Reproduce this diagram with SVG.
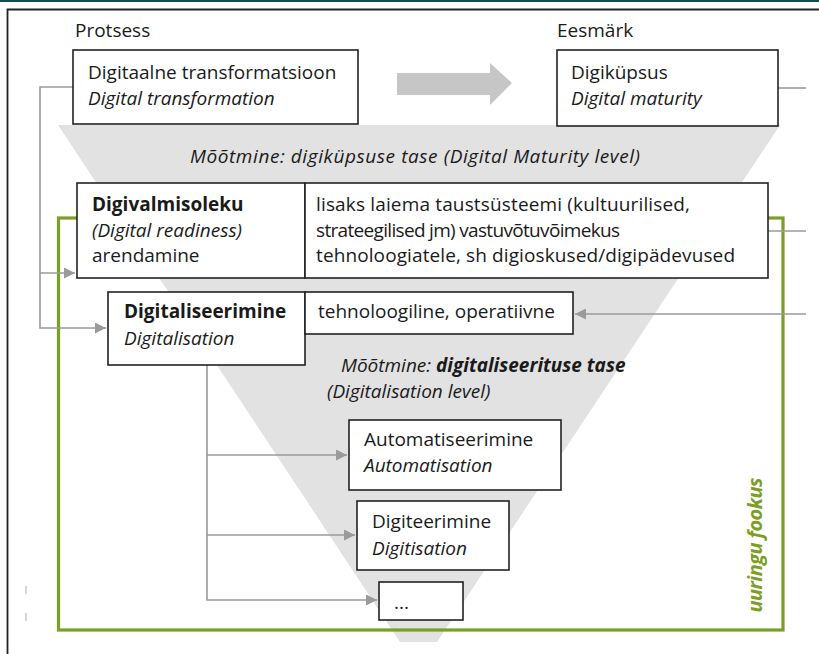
<svg xmlns="http://www.w3.org/2000/svg" width="819" height="654" viewBox="0 0 819 654">
<defs>
<marker id="ah" viewBox="0 0 10 10" refX="10" refY="5" markerWidth="11" markerHeight="11" markerUnits="userSpaceOnUse" orient="auto">
<path d="M0,0 L10,5 L0,10 z" fill="#9a9a9a"/>
</marker>
<style>
text{font-family:"Open Sans","Noto Sans","Liberation Sans",sans-serif;font-size:19px;fill:#1a1a1a}
.it{font-style:italic}
.b{font-weight:bold}
.box{fill:#fff;stroke:#222;stroke-width:1.6}
.con{fill:none;stroke:#9a9a9a;stroke-width:1.6}
</style>
</defs>
<rect x="0" y="0" width="819" height="654" fill="#fff"/>
<rect x="0" y="0" width="819" height="2" fill="#0f4c54"/>
<path d="M7.5,654 V9.5 H819" fill="none" stroke="#222" stroke-width="1.8"/>
<g id="funnel">
<polygon points="58,125 780,125 437,642 400,642" fill="#e2e2e2"/>
</g>
<g id="focus">
<rect x="58.5" y="218" width="724.5" height="412" fill="none" stroke="#7c9e24" stroke-width="3.2"/>
<text transform="translate(762,545) rotate(-90)" text-anchor="middle" class="b it" style="fill:#7c9e24;font-size:20px" textLength="135">uuringu fookus</text>
</g>
<g id="bigarrow">
<polygon points="397,73 490,73 490,63 512,83 490,105 490,95 397,95" fill="#c6c6c6"/>
</g>
<g id="marks" stroke="#c8c8c8" stroke-width="1.5">
<line x1="26" y1="586" x2="26" y2="594"/>
<line x1="26" y1="613" x2="26" y2="621"/>
</g>
<g id="connectors">
<path class="con" d="M73,87 H40 V328 H106" marker-end="url(#ah)"/>
<path class="con" d="M40,273 H75" marker-end="url(#ah)"/>
<path class="con" d="M778,88 H806"/>
<path class="con" d="M768,231 H806"/>
<path class="con" d="M806,314 H575" marker-end="url(#ah)"/>
<path class="con" d="M207,365 V600 H377" marker-end="url(#ah)"/>
<path class="con" d="M207,455 H347" marker-end="url(#ah)"/>
<path class="con" d="M207,535 H355" marker-end="url(#ah)"/>
</g>
<g id="labels">
<text x="75" y="37">Protsess</text>
<text x="557" y="37">Eesmärk</text>
<text x="190" y="163" class="it" textLength="450">Mõõtmine: digiküpsuse tase (Digital Maturity level)</text>
<text x="341" y="372" class="it">Mõõtmine: <tspan class="b">digitaliseerituse tase</tspan></text>
<text x="327" y="398" class="it">(Digitalisation level)</text>
</g>
<g id="n-transformation">
<rect class="box" x="73" y="50" width="285" height="74"/>
<text x="88" y="79">Digitaalne transformatsioon</text>
<text x="88" y="105" class="it">Digital transformation</text>
</g>
<g id="n-maturity">
<rect class="box" x="557" y="50" width="221" height="76"/>
<text x="571" y="79">Digiküpsus</text>
<text x="571" y="105" class="it">Digital maturity</text>
</g>
<g id="n-readiness">
<rect class="box" x="77" y="183" width="228" height="95"/>
<text x="92" y="211" class="b">Digivalmisoleku</text>
<text x="92" y="237" class="it">(Digital readiness)</text>
<text x="92" y="262">arendamine</text>
</g>
<g id="n-readiness-desc">
<rect class="box" x="305" y="183" width="463" height="95"/>
<text x="316" y="211" textLength="374">lisaks laiema taustsüsteemi (kultuurilised,</text>
<text x="316" y="237" textLength="304">strateegilised jm) vastuvõtuvõimekus</text>
<text x="316" y="262" textLength="419">tehnoloogiatele, sh digioskused/digipädevused</text>
</g>
<g id="n-digitalisation">
<rect class="box" x="108" y="292" width="197" height="73"/>
<text x="124" y="318" class="b">Digitaliseerimine</text>
<text x="124" y="345" class="it">Digitalisation</text>
</g>
<g id="n-digitalisation-desc">
<rect class="box" x="305" y="292" width="268" height="42"/>
<text x="318" y="318">tehnoloogiline, operatiivne</text>
</g>
<g id="n-automation">
<rect class="box" x="349" y="420" width="212" height="70"/>
<text x="364" y="446">Automatiseerimine</text>
<text x="364" y="472" class="it">Automatisation</text>
</g>
<g id="n-digitisation">
<rect class="box" x="357" y="501" width="152" height="69"/>
<text x="372" y="528">Digiteerimine</text>
<text x="372" y="555" class="it">Digitisation</text>
</g>
<g id="n-more">
<rect class="box" x="379" y="582" width="84" height="38"/>
<text x="394" y="609">...</text>
</g>
</svg>
